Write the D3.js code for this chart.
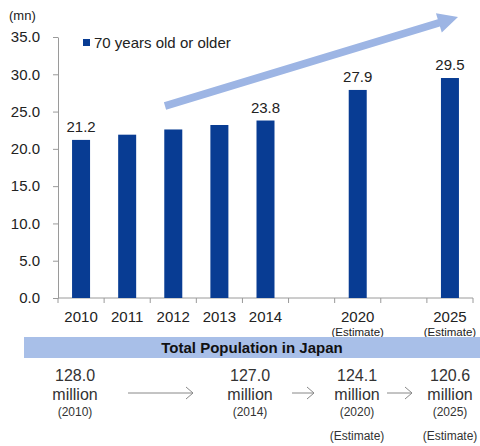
<!DOCTYPE html>
<html>
<head>
<meta charset="utf-8">
<script src="https://cdn.jsdelivr.net/npm/d3@7"></script>
<style>
  body { margin: 0; background: #fff; }
  text { font-family: "Liberation Sans", Arial, sans-serif; }
</style>
</head>
<body>
<script>
// chart data
const categories = ["2010", "2011", "2012", "2013", "2014", "gap1", "2020", "gap2", "2025"];
const values     = [21.2, 21.9, 22.6, 23.2, 23.8, null, 27.9, null, 29.5];
const showLabel  = [true, false, false, false, true, false, true, false, true];
const tickLabels = ["2010", "2011", "2012", "2013", "2014", "", "2020", "", "2025"];
const estimate   = [false, false, false, false, false, false, true, false, true];
const yTicks     = [0, 5, 10, 15, 20, 25, 30, 35];

// total population table
const popValues = ["128.0", "127.0", "124.1", "120.6"];
const popYears  = ["(2010)", "(2014)", "(2020)", "(2025)"];
const popEst    = [false, false, true, true];

const WIDTH = 480;
const HEIGHT = 446;
const BAR_COLOR = "#083c93";
const AXIS_COLOR = "#9a9a9a";
const ARROW_COLOR = "#9db5e4";

const svg = d3.select("body").append("svg")
    .attr("width", WIDTH)
    .attr("height", HEIGHT);

const x = d3.scaleBand().domain(categories).range([58, 473]).padding(0);
const y = d3.scaleLinear().domain([0, 35]).range([298, 37]);
const barW = 18;

// y axis
const yAxis = svg.append("g")
    .attr("transform", "translate(58,0)")
    .call(d3.axisLeft(y).tickValues(yTicks).tickFormat(d3.format(".1f")).tickSize(5).tickSizeOuter(0).tickPadding(13));
yAxis.select(".domain").attr("stroke", AXIS_COLOR);
yAxis.selectAll(".tick line").attr("stroke", AXIS_COLOR);
yAxis.selectAll(".tick text")
    .attr("font-size", 15)
    .attr("fill", "#222")
    .style("font-family", "Liberation Sans, Arial, sans-serif");

svg.append("text")
    .attr("x", 9).attr("y", 20)
    .attr("font-size", 13).attr("fill", "#222")
    .text("(mn)");

// x axis (ticks between categories)
svg.append("line")
    .attr("x1", 58).attr("x2", 473)
    .attr("y1", y(0)).attr("y2", y(0))
    .attr("stroke", AXIS_COLOR);
const bounds = categories.map(c => x(c)).concat([x.range()[1]]);
svg.selectAll(".xtick").data(bounds).join("line")
    .attr("x1", d => d).attr("x2", d => d)
    .attr("y1", y(0)).attr("y2", y(0) + 5)
    .attr("stroke", AXIS_COLOR);

svg.selectAll(".xlab").data(categories).join("text")
    .attr("x", d => x(d) + x.bandwidth() / 2)
    .attr("y", 322)
    .attr("text-anchor", "middle")
    .attr("font-size", 15).attr("fill", "#222")
    .text((d, i) => tickLabels[i]);

svg.selectAll(".xest").data(categories.filter((d, i) => estimate[i])).join("text")
    .attr("x", d => x(d) + x.bandwidth() / 2)
    .attr("y", 336)
    .attr("text-anchor", "middle")
    .attr("font-size", 11.5).attr("fill", "#222")
    .text("(Estimate)");

// bars
const barData = categories.map((c, i) => ({ c, v: values[i], lab: showLabel[i] })).filter(d => d.v != null);
svg.selectAll(".bar").data(barData).join("rect")
    .attr("x", d => x(d.c) + x.bandwidth() / 2 - barW / 2)
    .attr("y", d => y(d.v))
    .attr("width", barW)
    .attr("height", d => y(0) - y(d.v))
    .attr("fill", BAR_COLOR);

svg.selectAll(".val").data(barData.filter(d => d.lab)).join("text")
    .attr("x", d => x(d.c) + x.bandwidth() / 2)
    .attr("y", d => y(d.v) - 8)
    .attr("text-anchor", "middle")
    .attr("font-size", 15).attr("fill", "#222")
    .text(d => d.v.toFixed(1));

// legend
svg.append("rect").attr("x", 83).attr("y", 39).attr("width", 7).attr("height", 7).attr("fill", BAR_COLOR);
svg.append("text").attr("x", 94).attr("y", 48)
    .attr("font-size", 15).attr("fill", "#222")
    .text("70 years old or older");

// trend arrow
(function () {
    const x0 = 165, y0 = 106, x1 = 458, y1 = 17;
    const dx = x1 - x0, dy = y1 - y0, len = Math.hypot(dx, dy);
    const ux = dx / len, uy = dy / len, nx = -uy, ny = ux;
    const sw = 3.8, hw = 10, hl = 20;
    const bx = x1 - ux * hl, by = y1 - uy * hl;
    const pts = [
        [x0 + nx * sw, y0 + ny * sw],
        [bx + nx * sw, by + ny * sw],
        [bx + nx * hw, by + ny * hw],
        [x1, y1],
        [bx - nx * hw, by - ny * hw],
        [bx - nx * sw, by - ny * sw],
        [x0 - nx * sw, y0 - ny * sw]
    ];
    svg.append("path")
        .attr("d", d3.line()(pts) + "Z")
        .attr("fill", ARROW_COLOR);
})();

// total population band
svg.append("rect")
    .attr("x", 24).attr("y", 337).attr("width", WIDTH - 24).attr("height", 21)
    .attr("fill", "#a8bfe8");
svg.append("text")
    .attr("x", 252).attr("y", 353)
    .attr("text-anchor", "middle")
    .attr("font-size", 15).attr("font-weight", "bold").attr("fill", "#111")
    .text("Total Population in Japan");

const popX = [75, 250, 357, 450];
const pop = svg.selectAll(".pop").data(popValues).join("g")
    .attr("transform", (d, i) => `translate(${popX[i]},0)`);
pop.append("text").attr("y", 381).attr("text-anchor", "middle")
    .attr("font-size", 16).attr("fill", "#333").text(d => d);
pop.append("text").attr("y", 400).attr("text-anchor", "middle")
    .attr("font-size", 16).attr("fill", "#333").text("million");
pop.append("text").attr("y", 416).attr("text-anchor", "middle")
    .attr("font-size", 12).attr("fill", "#333").text((d, i) => popYears[i]);
pop.filter((d, i) => popEst[i]).append("text").attr("y", 440).attr("text-anchor", "middle")
    .attr("font-size", 12).attr("fill", "#333").text("(Estimate)");

// thin arrows between population figures
const arrows = [[128, 193], [292, 314], [387, 412]];
arrows.forEach(([a, b]) => {
    const yy = 393;
    svg.append("line").attr("x1", a).attr("x2", b).attr("y1", yy).attr("y2", yy)
        .attr("stroke", "#888").attr("stroke-width", 1);
    svg.append("path")
        .attr("d", `M${b - 7},${yy - 6} L${b},${yy} L${b - 7},${yy + 6}`)
        .attr("fill", "none").attr("stroke", "#888").attr("stroke-width", 1);
});
</script>
</body>
</html>
